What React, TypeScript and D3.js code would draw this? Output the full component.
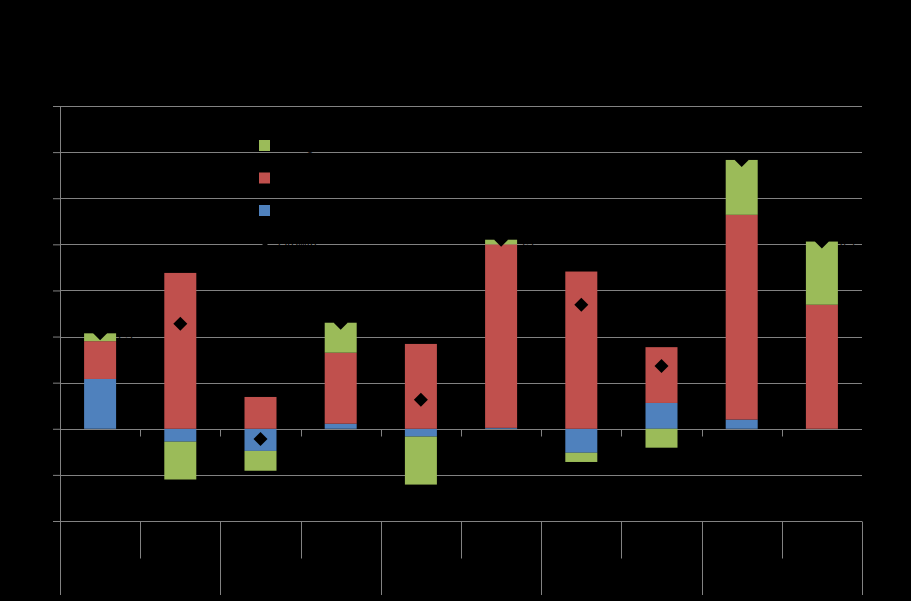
import React, { useEffect, useRef } from "react";
import * as d3 from "d3";

// Chart data
const categories = ["2008 H1", "2008 H2", "2009 H1", "2009 H2", "2010 H1", "2010 H2", "2011 H1", "2011 H2", "2012 H1", "2012 H2"];
const groups = ["2008", "2009", "2010", "2011", "2012"];
const seriesNames = ["Net exports", "Domestic demand", "Inventories"];
const seriesColors = ["#4F81BD", "#C0504D", "#9BBB59"];
const netExports = [1.08, -0.28, -0.48, 0.11, -0.17, 0.02, -0.52, 0.56, 0.2, 0];
const domesticDemand = [0.82, 3.38, 0.69, 1.54, 1.84, 3.98, 3.41, 1.21, 4.44, 2.69];
const inventories = [0.17, -0.82, -0.43, 0.65, -1.04, 0.1, -0.2, -0.41, 1.19, 1.37];
const gdpGrowth = [2.07, 2.28, -0.22, 2.3, 0.63, 4.1, 2.69, 1.36, 5.83, 4.06];
const totalName = "Growth";
const yTicks = [-2, -1, 0, 1, 2, 3, 4, 5, 6, 7];

const W = 911;
const H = 601;
const margin = { top: 106, right: 49, bottom: 80, left: 60 };
const gridColor = "#828282";
const font = "'Liberation Sans', Arial, sans-serif";

export default function App() {
  const yAxisRef = useRef<SVGGElement>(null);

  const x = d3
    .scaleBand<string>()
    .domain(categories)
    .range([margin.left, W - margin.right]);
  const y = d3
    .scaleLinear()
    .domain([-2, 7])
    .range([H - margin.bottom, margin.top]);

  const rows = categories.map((c, i) => ({
    cat: c,
    [seriesNames[0]]: netExports[i],
    [seriesNames[1]]: domesticDemand[i],
    [seriesNames[2]]: inventories[i],
  }));
  const stacked = d3
    .stack<any>()
    .keys(seriesNames)
    .offset(d3.stackOffsetDiverging)(rows);

  const barW = 32;
  const diamond = d3.symbol().type(d3.symbolSquare).size(98)()!;
  const legendDiamond = d3.symbol().type(d3.symbolSquare).size(60)()!;
  const fmt = d3.format(".1f");

  useEffect(() => {
    const axis = d3.axisLeft(y).tickValues(yTicks).tickSize(7).tickFormat(d3.format("d"));
    const g = d3.select(yAxisRef.current!);
    g.call(axis as any);
    g.select(".domain").remove();
    g.selectAll(".tick line").attr("stroke", gridColor);
    g.selectAll(".tick text")
      .attr("fill", "#000")
      .attr("font-family", font)
      .attr("font-size", 12);
  }, []);

  const plotLeft = margin.left;
  const plotRight = W - margin.right;
  const zeroY = Math.round(y(0)) + 0.5;
  const bottomY = Math.round(y(-2)) + 0.5;
  const boundaries = d3.range(categories.length + 1).map((i) => margin.left + i * x.step());

  const legendItems = [
    { name: "Change in inventories", color: seriesColors[2] },
    { name: seriesNames[1], color: seriesColors[1] },
    { name: seriesNames[0], color: seriesColors[0] },
  ];

  return (
    <svg
      width={W}
      height={H}
      style={{ position: "absolute", left: 0, top: 0, background: "#000" }}
      fontFamily={font}
    >
      <rect width={W} height={H} fill="#000" />
      <text x={W / 2} y={45} textAnchor="middle" fontSize={18} fontWeight="bold" fill="#000">
        Contributions to real GDP growth
      </text>
      <text transform={`translate(20,${(margin.top + H - margin.bottom) / 2}) rotate(-90)`} textAnchor="middle" fontSize={12} fill="#000">
        Percentage points
      </text>

      {/* gridlines */}
      {yTicks.map((t) => (
        <line key={t} x1={plotLeft} x2={plotRight} y1={Math.round(y(t)) + 0.5} y2={Math.round(y(t)) + 0.5} stroke={gridColor} />
      ))}
      <line x1={plotLeft + 0.5} x2={plotLeft + 0.5} y1={margin.top} y2={H - 6} stroke={gridColor} />
      <g ref={yAxisRef} transform={`translate(${plotLeft},0)`} />

      {/* category axis */}
      {boundaries.slice(1, -1).map((bx, i) => (
        <line key={"t" + i} x1={Math.round(bx) + 0.5} x2={Math.round(bx) + 0.5} y1={zeroY} y2={zeroY + 7} stroke={gridColor} />
      ))}
      {boundaries.map((bx, i) => (
        <line
          key={"b" + i}
          x1={Math.round(bx) + 0.5}
          x2={Math.round(bx) + 0.5}
          y1={bottomY}
          y2={i % 2 === 0 ? H - 6 : bottomY + 37}
          stroke={gridColor}
        />
      ))}
      {categories.map((c) => (
        <text key={c} x={x(c)! + x.bandwidth() / 2} y={bottomY + 23} textAnchor="middle" fontSize={12} fill="#000">
          {c.split(" ")[1]}
        </text>
      ))}
      {groups.map((gname, i) => (
        <text key={gname} x={margin.left + (i * 2 + 1) * x.step()} y={bottomY + 60} textAnchor="middle" fontSize={12} fill="#000">
          {gname}
        </text>
      ))}

      {/* stacked bars */}
      {stacked.map((s, si) => (
        <g key={s.key} fill={seriesColors[si]}>
          {s.map((d, i) => (
            <rect
              key={i}
              x={x(categories[i])! + x.bandwidth() / 2 - barW / 2}
              y={y(Math.max(d[0], d[1]))}
              width={barW}
              height={Math.abs(y(d[0]) - y(d[1]))}
            />
          ))}
        </g>
      ))}

      {/* totals */}
      {gdpGrowth.map((v, i) => {
        const cx = x(categories[i])! + x.bandwidth() / 2;
        return (
          <g key={i}>
            <path d={diamond} transform={`translate(${cx},${y(v)}) rotate(45)`} fill="#000" />
            <text x={cx + barW / 2 + 2} y={y(v) + 6} fontSize={12} fill="#000">
              {fmt(v)}
            </text>
          </g>
        );
      })}

      {/* legend */}
      <g transform="translate(259,140)">
        {legendItems.map((it, i) => (
          <g key={it.name} transform={`translate(0,${i * 32.5})`}>
            <rect width={11} height={11} fill={it.color} />
            <text x={19} y={10} fontSize={12} fill="#000">
              {it.name}
            </text>
          </g>
        ))}
        <g transform={`translate(0,${3 * 32.5})`}>
          <path d={legendDiamond} transform="translate(6,4) rotate(45)" fill="#000" />
          <text x={19} y={10} fontSize={12} fill="#000">
            {totalName}
          </text>
        </g>
      </g>
    </svg>
  );
}
